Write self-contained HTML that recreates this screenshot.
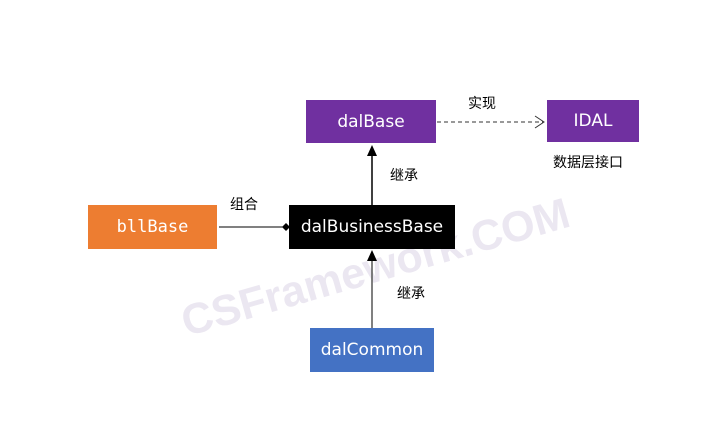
<!DOCTYPE html>
<html><head><meta charset="utf-8"><style>
body{margin:0;width:712px;height:431px;background:#fff;overflow:hidden;position:relative;font-family:"Liberation Sans","Noto Sans CJK SC",sans-serif}
.b{position:absolute;color:#fff;font-size:17px;display:flex;align-items:center;justify-content:center;font-family:"DejaVu Sans","Liberation Sans",sans-serif}
.t{position:absolute;font-size:14px;color:#000;font-family:"Noto Sans CJK SC",sans-serif}
.wm{position:absolute;font-size:43px;font-weight:bold;color:#ebe7f1;transform:rotate(-16deg);transform-origin:left top;font-family:"Liberation Sans",sans-serif;white-space:nowrap}
</style></head><body>
<div class="wm" style="left:176px;top:300px">CSFramework.COM</div>
<svg width="712" height="431" style="position:absolute;left:0;top:0">
<line x1="437" y1="122" x2="543" y2="122" stroke="#333" stroke-dasharray="4,3"/>
<polyline points="535,116 544,122 535,128" fill="none" stroke="#333"/>
<line x1="372" y1="205" x2="372" y2="155" stroke="#000" stroke-width="1.5"/>
<polygon points="372,145 367,156 377,156" fill="#000"/>
<line x1="372" y1="328" x2="372" y2="260" stroke="#555" stroke-width="1.5"/>
<polygon points="372,250 367,261 377,261" fill="#000"/>
<line x1="219" y1="227" x2="284" y2="227" stroke="#000"/>
<polygon points="282,227 286,223 290,227 286,231" fill="#000"/>
</svg>
<div class="b" style="left:306px;top:100px;width:130px;height:43px;background:#7030a0">dalBase</div>
<div class="b" style="left:547px;top:100px;width:92px;height:42px;background:#7030a0">IDAL</div>
<div class="b" style="left:88px;top:205px;width:129px;height:44px;background:#ed7d31;font-family:'DejaVu Sans Mono',monospace">bllBase</div>
<div class="b" style="left:289px;top:205px;width:166px;height:44px;background:#000">dalBusinessBase</div>
<div class="b" style="left:310px;top:328px;width:124px;height:44px;background:#4472c4">dalCommon</div>
<div class="t" style="left:468px;top:93px">实现</div>
<div class="t" style="left:553px;top:152px">数据层接口</div>
<div class="t" style="left:390px;top:165px">继承</div>
<div class="t" style="left:397px;top:283px">继承</div>
<div class="t" style="left:230px;top:194px">组合</div>
</body></html>
